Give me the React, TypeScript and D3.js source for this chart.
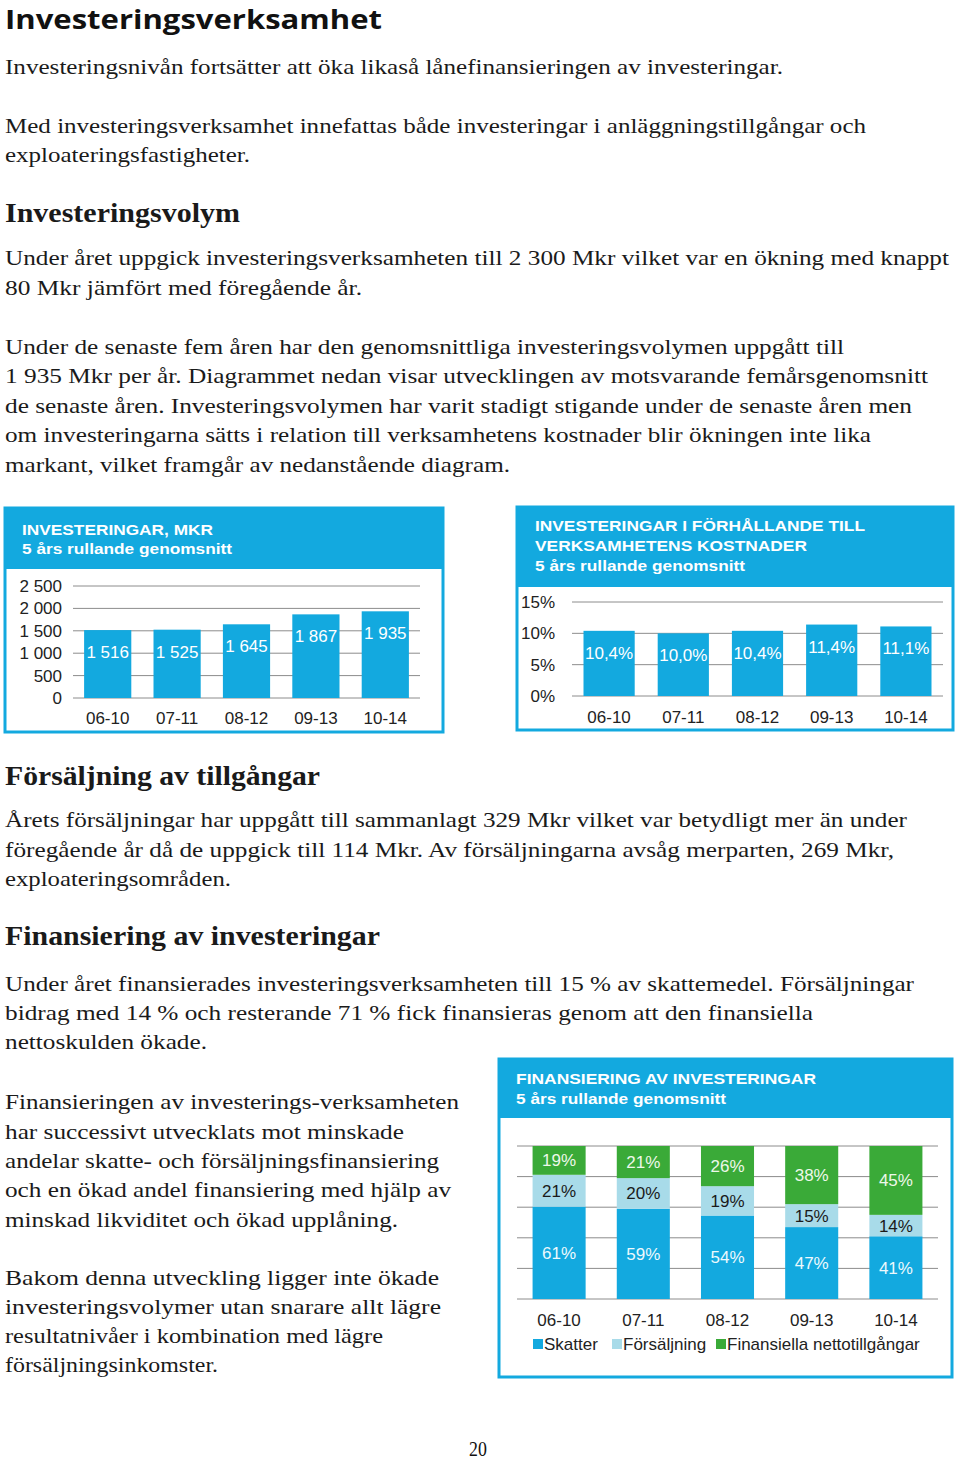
import React from 'react';
import * as d3 from 'd3';

// chart data
const periods = ['06-10', '07-11', '08-12', '09-13', '10-14'];
const investMkr = [1516, 1525, 1645, 1867, 1935];
const investTicks = [0, 500, 1000, 1500, 2000, 2500];
const costShare = [10.4, 10.0, 10.4, 11.4, 11.1];
const costTicks = [0, 5, 10, 15];
const skatter = [61, 59, 54, 47, 41];
const forsaljning = [21, 20, 19, 15, 14];
const finansiella = [19, 21, 26, 38, 45];
const financeKeys = ['Skatter', 'Försäljning', 'Finansiella nettotillgångar'];
const financeTicks = [0, 0.2, 0.4, 0.6, 0.8, 1];

// page text, one entry per printed line
const pageLines = [
  { t: 'Investeringsnivån fortsätter att öka likaså lånefinansieringen av investeringar.', y: 74, w: 778 },
  { t: 'Med investeringsverksamhet innefattas både investeringar i anläggningstillgångar och', y: 133, w: 861 },
  { t: 'exploateringsfastigheter.', y: 162, w: 245 },
  { t: 'Investeringsvolym', y: 222, w: 235, h: true },
  { t: 'Under året uppgick investeringsverksamheten till 2 300 Mkr vilket var en ökning med knappt', y: 265, w: 944 },
  { t: '80 Mkr jämfört med föregående år.', y: 295, w: 357 },
  { t: 'Under de senaste fem åren har den genomsnittliga investeringsvolymen uppgått till', y: 354, w: 839 },
  { t: '1 935 Mkr per år. Diagrammet nedan visar utvecklingen av motsvarande femårsgenomsnitt', y: 383, w: 923 },
  { t: 'de senaste åren. Investeringsvolymen har varit stadigt stigande under de senaste åren men', y: 413, w: 907 },
  { t: 'om investeringarna sätts i relation till verksamhetens kostnader blir ökningen inte lika', y: 442, w: 866 },
  { t: 'markant, vilket framgår av nedanstående diagram.', y: 472, w: 505 },
  { t: 'Försäljning av tillgångar', y: 785, w: 315, h: true },
  { t: 'Årets försäljningar har uppgått till sammanlagt 329 Mkr vilket var betydligt mer än under', y: 827, w: 902 },
  { t: 'föregående år då de uppgick till 114 Mkr. Av försäljningarna avsåg merparten, 269 Mkr,', y: 857, w: 889 },
  { t: 'exploateringsområden.', y: 886, w: 226 },
  { t: 'Finansiering av investeringar', y: 945, w: 375, h: true },
  { t: 'Under året finansierades investeringsverksamheten till 15 % av skattemedel. Försäljningar', y: 991, w: 909 },
  { t: 'bidrag med 14 % och resterande 71 % fick finansieras genom att den finansiella', y: 1020, w: 808 },
  { t: 'nettoskulden ökade.', y: 1049, w: 202 },
  { t: 'Finansieringen av investerings-verksamheten', y: 1109, w: 454 },
  { t: 'har successivt utvecklats mot minskade', y: 1139, w: 399 },
  { t: 'andelar skatte- och försäljningsfinansiering', y: 1168, w: 434 },
  { t: 'och en ökad andel finansiering med hjälp av', y: 1197, w: 446 },
  { t: 'minskad likviditet och ökad upplåning.', y: 1227, w: 393 },
  { t: 'Bakom denna utveckling ligger inte ökade', y: 1285, w: 434 },
  { t: 'investeringsvolymer utan snarare allt lägre', y: 1314, w: 436 },
  { t: 'resultatnivåer i kombination med lägre', y: 1343, w: 378 },
  { t: 'försäljningsinkomster.', y: 1372, w: 213 },
];

const BLUE = '#13a9df';
const LIGHT = '#a8dbe9';
const GREEN = '#3aaa38';
const GRID = '#8c8c8c';
const SANS = '"Liberation Sans", Arial, sans-serif';
const SERIF = '"Liberation Serif", "Times New Roman", serif';
const FS = 17;

const sv = d3.formatLocale({ decimal: ',', thousands: ' ', grouping: [3], currency: ['', ''] });
const fmtThousands = sv.format(',');
const fmtPct1 = sv.format('.1f');

function Panel({ x, y, w, h, headBottom, titles }) {
  return (
    <g>
      <rect x={x} y={y} width={w} height={h} fill="#fff" stroke={BLUE} strokeWidth={3} />
      <rect x={x} y={y} width={w} height={headBottom - y} fill={BLUE} />
      {titles.map((t, i) => (
        <text key={i} x={t.x} y={t.y} fill="#fff" fontFamily={SANS} fontWeight="bold" fontSize={15}
          textLength={t.w} lengthAdjust="spacingAndGlyphs">{t.s}</text>
      ))}
    </g>
  );
}

function SimpleBars({ values, ticks, yRange, xRange, pad, labelX, xLabelY, tickFmt, valueFmt }) {
  const x = d3.scaleBand().domain(periods).range(xRange).paddingInner(pad).paddingOuter(pad / 2);
  const y = d3.scaleLinear().domain([ticks[0], ticks[ticks.length - 1]]).range(yRange);
  return (
    <g fontFamily={SANS}>
      {ticks.map((t) => (
        <g key={t}>
          <line x1={xRange[0]} x2={xRange[1]} y1={y(t)} y2={y(t)} stroke={GRID} strokeWidth={1} />
          <text x={labelX} y={y(t) + 6} textAnchor="end" fontSize={FS} fill="#222">{tickFmt(t)}</text>
        </g>
      ))}
      {values.map((v, i) => (
        <g key={i}>
          <rect x={x(periods[i])} y={y(v)} width={x.bandwidth()} height={y(0) - y(v)} fill={BLUE} />
          <text x={x(periods[i]) + x.bandwidth() / 2} y={y(v) + 28} textAnchor="middle" fontSize={FS} fill="#fff">
            {valueFmt(v)}
          </text>
          <text x={x(periods[i]) + x.bandwidth() / 2} y={xLabelY} textAnchor="middle" fontSize={FS} fill="#222">
            {periods[i]}
          </text>
        </g>
      ))}
    </g>
  );
}

function FinanceBars() {
  const rows = periods.map((p, i) => ({
    period: p,
    Skatter: skatter[i],
    'Försäljning': forsaljning[i],
    'Finansiella nettotillgångar': finansiella[i],
  }));
  const series = d3.stack().keys(financeKeys).offset(d3.stackOffsetExpand)(rows);
  const x = d3.scaleBand().domain(periods).range([517, 938]).paddingInner(0.37).paddingOuter(0.185);
  const y = d3.scaleLinear().domain([0, 1]).range([1299, 1146]);
  const fills = d3.scaleOrdinal().domain(financeKeys).range([BLUE, LIGHT, GREEN]);
  const labelFill = d3.scaleOrdinal().domain(financeKeys).range(['#eef9fd', '#1a1a1a', '#eef8ea']);
  const legendX = [533, 612, 716];
  return (
    <g fontFamily={SANS}>
      {financeTicks.map((t) => (
        <line key={t} x1={517} x2={938} y1={y(t)} y2={y(t)} stroke={GRID} strokeWidth={1} />
      ))}
      {series.map((s) => (
        <g key={s.key}>
          {s.map((d, i) => (
            <g key={i}>
              <rect x={x(periods[i])} y={y(d[1])} width={x.bandwidth()} height={y(d[0]) - y(d[1])} fill={fills(s.key)} />
              <text x={x(periods[i]) + x.bandwidth() / 2} y={(y(d[0]) + y(d[1])) / 2 + 6} textAnchor="middle"
                fontSize={FS} fill={labelFill(s.key)}>{d.data[s.key]}%</text>
            </g>
          ))}
        </g>
      ))}
      {periods.map((p) => (
        <text key={p} x={x(p) + x.bandwidth() / 2} y={1326} textAnchor="middle" fontSize={FS} fill="#222">{p}</text>
      ))}
      {financeKeys.map((k, i) => (
        <g key={k}>
          <rect x={legendX[i]} y={1339} width={10} height={10} fill={fills(k)} />
          <text x={legendX[i] + 11} y={1350} fontSize={FS} fill="#222">{k}</text>
        </g>
      ))}
    </g>
  );
}

export default function App() {
  return (
    <svg width={960} height={1459} style={{ position: 'absolute', left: 0, top: 0, background: '#fff' }}>
      <rect width={960} height={1459} fill="#fff" />
      <text x={5} y={29} fontFamily='"Open Sans", sans-serif' fontWeight="bold" fontSize={27} fill="#111"
        textLength={377} lengthAdjust="spacingAndGlyphs">Investeringsverksamhet</text>
      {pageLines.map((l, i) => (
        <text key={i} x={5} y={l.y} fontFamily={SERIF} fontSize={l.h ? 28 : 22} fontWeight={l.h ? 'bold' : 'normal'}
          fill="#1a1a1a" textLength={l.w} lengthAdjust="spacingAndGlyphs">{l.t}</text>
      ))}

      <Panel x={5} y={508} w={438} h={224} headBottom={569}
        titles={[{ s: 'INVESTERINGAR, MKR', x: 22, y: 535, w: 191 }, { s: '5 års rullande genomsnitt', x: 22, y: 554, w: 210 }]} />
      <SimpleBars values={investMkr} ticks={investTicks} yRange={[698, 586]} xRange={[73, 420]} pad={0.32}
        labelX={62} xLabelY={724} tickFmt={fmtThousands} valueFmt={fmtThousands} />

      <Panel x={517} y={507} w={436} h={223} headBottom={587}
        titles={[
          { s: 'INVESTERINGAR  I FÖRHÅLLANDE  TILL', x: 535, y: 531, w: 330 },
          { s: 'VERKSAMHETENS  KOSTNADER', x: 535, y: 551, w: 272 },
          { s: '5 års rullande genomsnitt', x: 535, y: 571, w: 210 },
        ]} />
      <SimpleBars values={costShare} ticks={costTicks} yRange={[696, 602]} xRange={[572, 943]} pad={0.31}
        labelX={555} xLabelY={723} tickFmt={(t) => `${t}%`} valueFmt={(v) => `${fmtPct1(v)}%`} />

      <Panel x={499} y={1059} w={453} h={318} headBottom={1118}
        titles={[{ s: 'FINANSIERING  AV INVESTERINGAR', x: 516, y: 1084, w: 300 }, { s: '5 års rullande genomsnitt', x: 516, y: 1104, w: 210 }]} />
      <FinanceBars />

      <text x={478} y={1456} textAnchor="middle" fontFamily={SERIF} fontSize={21} fill="#111"
        transform="translate(478,0) scale(0.85,1) translate(-478,0)">20</text>
    </svg>
  );
}
